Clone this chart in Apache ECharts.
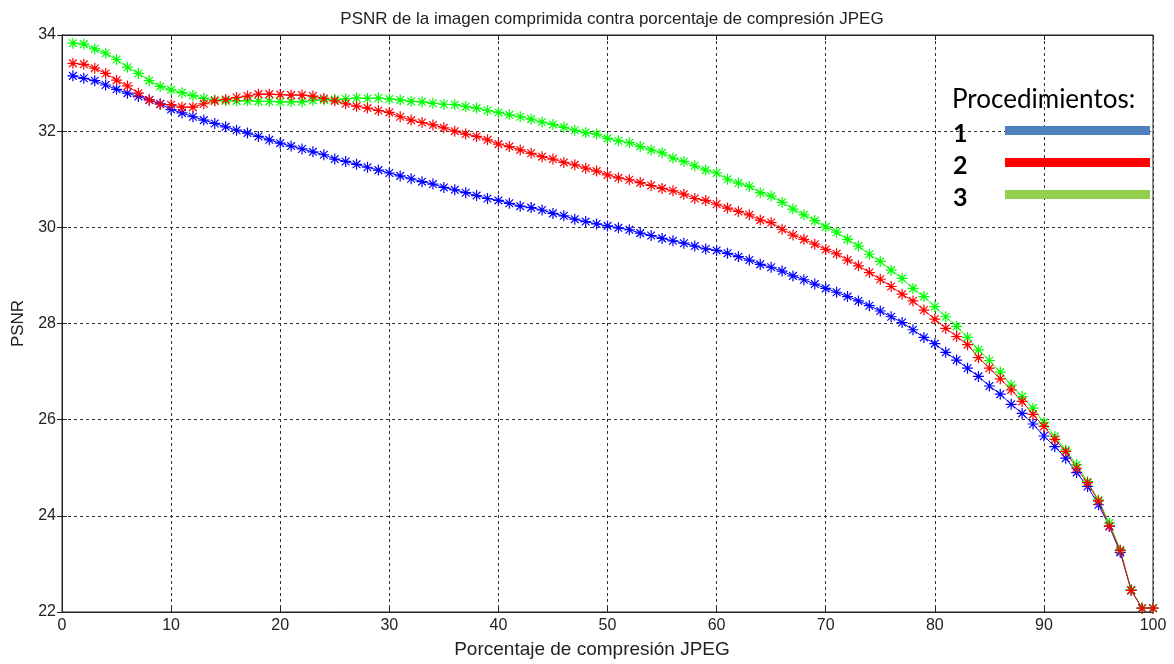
<!DOCTYPE html>
<html>
<head>
<meta charset="utf-8">
<script src="https://cdn.jsdelivr.net/npm/echarts@6/dist/echarts.min.js"></script>
<style>
  html, body { margin: 0; padding: 0; background: #fff; }
  #chart { width: 1174px; height: 664px; }
</style>
</head>
<body>
<div id="chart"></div>
<script>
// porcentaje de compresión (1..100)
const xs = Array.from({ length: 100 }, (_, i) => i + 1)

const xTicks = [0, 10, 20, 30, 40, 50, 60, 70, 80, 90, 100]
const yTicks = [22, 24, 26, 28, 30, 32, 34]

// PSNR por procedimiento
const proc1 = [
  33.15, 33.10, 33.05, 32.96, 32.87, 32.79, 32.72, 32.65, 32.57, 32.45,
  32.38, 32.30, 32.23, 32.16, 32.09, 32.02, 31.96, 31.89, 31.82, 31.75,
  31.69, 31.63, 31.57, 31.51, 31.42, 31.37, 31.31, 31.25, 31.19, 31.13,
  31.07, 31.01, 30.95, 30.90, 30.83, 30.78, 30.72, 30.66, 30.60, 30.56,
  30.50, 30.44, 30.41, 30.36, 30.29, 30.24, 30.17, 30.12, 30.07, 30.03,
  29.99, 29.95, 29.88, 29.83, 29.77, 29.72, 29.67, 29.61, 29.55, 29.52,
  29.46, 29.39, 29.32, 29.23, 29.17, 29.09, 28.99, 28.91, 28.82, 28.73,
  28.65, 28.56, 28.47, 28.37, 28.26, 28.14, 28.02, 27.87, 27.71, 27.58,
  27.40, 27.24, 27.07, 26.90, 26.70, 26.53, 26.32, 26.13, 25.91, 25.66,
  25.44, 25.20, 24.90, 24.61, 24.23, 23.78, 23.24, 22.45, 22.08, 22.08
]
const proc2 = [
  33.41, 33.39, 33.31, 33.20, 33.06, 32.94, 32.79, 32.65, 32.56, 32.55,
  32.50, 32.50, 32.57, 32.63, 32.66, 32.70, 32.73, 32.77, 32.77, 32.76,
  32.75, 32.75, 32.73, 32.68, 32.63, 32.57, 32.52, 32.48, 32.43, 32.39,
  32.30, 32.23, 32.18, 32.13, 32.07, 32.00, 31.94, 31.89, 31.82, 31.73,
  31.68, 31.61, 31.54, 31.47, 31.42, 31.35, 31.30, 31.23, 31.17, 31.09,
  31.03, 30.99, 30.93, 30.87, 30.81, 30.76, 30.69, 30.60, 30.56, 30.48,
  30.40, 30.33, 30.26, 30.15, 30.10, 29.96, 29.84, 29.75, 29.65, 29.54,
  29.45, 29.32, 29.20, 29.06, 28.92, 28.77, 28.61, 28.47, 28.28, 28.09,
  27.90, 27.73, 27.56, 27.29, 27.07, 26.85, 26.62, 26.38, 26.11, 25.86,
  25.59, 25.34, 24.99, 24.69, 24.31, 23.79, 23.28, 22.45, 22.08, 22.08
]
const proc3 = [
  33.83, 33.81, 33.71, 33.62, 33.49, 33.33, 33.20, 33.05, 32.93, 32.86,
  32.80, 32.74, 32.68, 32.65, 32.63, 32.63, 32.63, 32.62, 32.62, 32.61,
  32.61, 32.61, 32.64, 32.65, 32.66, 32.67, 32.69, 32.68, 32.69, 32.67,
  32.65, 32.62, 32.61, 32.58, 32.56, 32.55, 32.51, 32.48, 32.43, 32.39,
  32.34, 32.30, 32.25, 32.19, 32.14, 32.08, 32.02, 31.97, 31.94, 31.85,
  31.80, 31.76, 31.68, 31.61, 31.55, 31.44, 31.37, 31.28, 31.19, 31.13,
  31.00, 30.92, 30.85, 30.72, 30.65, 30.52, 30.38, 30.26, 30.14, 30.01,
  29.90, 29.75, 29.61, 29.44, 29.29, 29.11, 28.94, 28.73, 28.56, 28.35,
  28.14, 27.94, 27.71, 27.45, 27.23, 26.99, 26.72, 26.48, 26.24, 25.94,
  25.65, 25.37, 25.06, 24.71, 24.33, 23.85, 23.29, 22.46, 22.08, 22.08
]

const legendNames = ['1', '2', '3']
const legendColors = ['#4f81bd', '#ff0000', '#92d050']

// asterisco tipo MATLAB
const star = 'path://M5,0L5,10M0,5L10,5M1.5,1.5L8.5,8.5M1.5,8.5L8.5,1.5'

function mkSeries(vals, color) {
  return {
    type: 'line',
    data: xs.map((x, i) => [x, vals[i]]),
    symbol: star,
    symbolSize: 11,
    showAllSymbol: true,
    lineStyle: { color, width: 1 },
    itemStyle: { color, borderColor: color, borderWidth: 1.2 },
    emphasis: { disabled: true },
    animation: false
  }
}

const font = 'Liberation Sans, Arial, sans-serif'
const gridLine = { show: true, lineStyle: { color: '#333', type: [3, 3], width: 1 } }

const chart = echarts.init(document.getElementById('chart'))
chart.setOption({
  backgroundColor: '#fff',
  animation: false,
  title: {
    text: 'PSNR de la imagen comprimida contra porcentaje de compresión JPEG',
    left: 607, textAlign: 'center', top: 6,
    textStyle: { fontFamily: font, fontSize: 17, fontWeight: 'normal', color: '#222' }
  },
  grid: { left: 62, right: 21, top: 35, bottom: 52, show: true, borderColor: '#222', borderWidth: 1 },
  xAxis: [{
    type: 'value', min: 0, max: 100, interval: 10,
    axisLine: { show: true, lineStyle: { color: '#222' } },
    axisTick: { inside: true, length: 5, lineStyle: { color: '#222' } },
    axisLabel: { fontFamily: font, fontSize: 16, color: '#222', margin: 6 },
    splitLine: gridLine
  }, {
    type: 'value', min: 0, max: 100, interval: 10, position: 'top',
    axisLine: { show: true, lineStyle: { color: '#222' } },
    axisTick: { inside: true, length: 5, lineStyle: { color: '#222' } },
    axisLabel: { show: false }, splitLine: { show: false }
  }],
  yAxis: [{
    type: 'value', min: 22, max: 34, interval: 2,
    name: 'PSNR', nameLocation: 'middle', nameGap: 34,
    nameTextStyle: { fontFamily: font, fontSize: 17, color: '#222' },
    axisLine: { show: true, lineStyle: { color: '#222' } },
    axisTick: { inside: true, length: 5, lineStyle: { color: '#222' } },
    axisLabel: { fontFamily: font, fontSize: 16, color: '#222', margin: 6 },
    splitLine: gridLine
  }, {
    type: 'value', min: 22, max: 34, interval: 2, position: 'right',
    axisLine: { show: true, lineStyle: { color: '#222' } },
    axisTick: { inside: true, length: 5, lineStyle: { color: '#222' } },
    axisLabel: { show: false }, splitLine: { show: false }
  }],
  series: [
    mkSeries(proc1, '#0000ff'),
    mkSeries(proc3, '#00ff00'),
    mkSeries(proc2, '#ff0000')
  ],
  graphic: [
    {
      type: 'text', x: 592, y: 650, z: 100,
      style: {
        text: 'Porcentaje de compresión JPEG', font: '19px Liberation Sans, Arial, sans-serif',
        fill: '#222', align: 'center', verticalAlign: 'middle'
      }
    },
    {
      type: 'text', left: 952, top: 87, z: 100,
      style: { text: 'Procedimientos:', font: '26px Lato, sans-serif', fill: '#000' }
    },
    ...legendNames.map((n, i) => ({
      type: 'text', left: 953, top: 121 + i * 32, z: 100,
      style: { text: n, font: 'bold 25px Lato, sans-serif', fill: '#000' }
    })),
    ...legendColors.map((c, i) => ({
      type: 'rect', z: 100,
      shape: { x: 1005, y: 126 + i * 32, width: 145, height: 9 },
      style: { fill: c }
    }))
  ]
})
</script>
</body>
</html>
